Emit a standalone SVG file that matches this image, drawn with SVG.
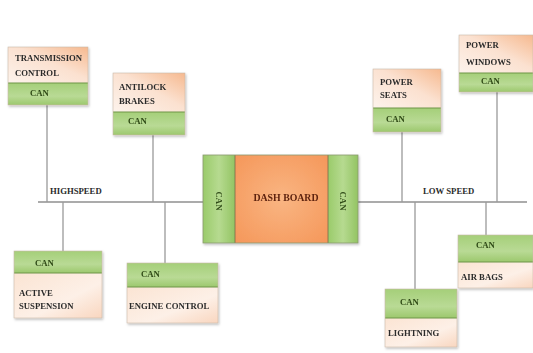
<svg xmlns="http://www.w3.org/2000/svg" width="533" height="353" viewBox="0 0 533 353">
  <defs>
    <linearGradient id="peach" x1="0" y1="1" x2="1" y2="0">
      <stop offset="0" stop-color="#fdf3ec"/>
      <stop offset="0.55" stop-color="#fbe1d0"/>
      <stop offset="1" stop-color="#f6b98f"/>
    </linearGradient>
    <linearGradient id="peachLow" x1="0" y1="0" x2="1" y2="1">
      <stop offset="0" stop-color="#fbe4d3"/>
      <stop offset="0.6" stop-color="#fdf0e7"/>
      <stop offset="1" stop-color="#f9d6bf"/>
    </linearGradient>
    <linearGradient id="green" x1="0" y1="0" x2="0" y2="1">
      <stop offset="0" stop-color="#a5cf79"/>
      <stop offset="0.6" stop-color="#b9da95"/>
      <stop offset="1" stop-color="#9cc86d"/>
    </linearGradient>
    <linearGradient id="greenSide" x1="0" y1="0" x2="1" y2="0">
      <stop offset="0" stop-color="#9acb6a"/>
      <stop offset="0.5" stop-color="#b6da90"/>
      <stop offset="1" stop-color="#93c463"/>
    </linearGradient>
    <radialGradient id="orange" cx="0.5" cy="0.5" r="0.7">
      <stop offset="0" stop-color="#f9b582"/>
      <stop offset="1" stop-color="#f5975a"/>
    </radialGradient>
    <filter id="shadow" x="-10%" y="-10%" width="125%" height="130%">
      <feDropShadow dx="1" dy="1.5" stdDeviation="1" flood-color="#000" flood-opacity="0.25"/>
    </filter>
  </defs>
  <style>
    text { font-family: "Liberation Serif", "Times New Roman", serif; font-weight: bold; font-size: 8.7px; fill: #2b2b2b; }
    .can { fill: #2f4a17; }
    .bus { stroke: #8f8f8f; stroke-width: 1.5; fill: none; }
    .drop { stroke: #9a9a9a; stroke-width: 1.3; fill: none; }
    .top { fill: url(#peach); }
    .low { fill: url(#peachLow); }
    .band { fill: url(#green); }
    .edge { stroke: #6e9648; stroke-width: 1.2; }
    .frame { fill: none; stroke: #c9b9a8; stroke-width: 0.6; }
  </style>

  <rect width="533" height="353" fill="#ffffff"/>

  <!-- bus and drop lines -->
  <g id="connectors">
    <line class="bus" x1="38" y1="202" x2="203" y2="202"/>
    <line class="bus" x1="358" y1="202" x2="527" y2="202"/>
    <line class="drop" x1="47" y1="105" x2="47" y2="202"/>
    <line class="drop" x1="153" y1="135" x2="153" y2="202"/>
    <line class="drop" x1="63" y1="202" x2="63" y2="251"/>
    <line class="drop" x1="165" y1="202" x2="165" y2="263"/>
    <line class="drop" x1="402" y1="132" x2="402" y2="202"/>
    <line class="drop" x1="497" y1="92" x2="497" y2="202"/>
    <line class="drop" x1="415" y1="202" x2="415" y2="289"/>
    <line class="drop" x1="486" y1="202" x2="486" y2="235"/>
    <text x="50" y="194">HIGHSPEED</text>
    <text x="423" y="194">LOW SPEED</text>
  </g>

  <!-- upper nodes: label above, CAN band below -->
  <g id="transmission" filter="url(#shadow)">
    <rect class="top" x="8" y="47" width="80" height="36"/>
    <rect class="band" x="8" y="83" width="80" height="22"/>
    <line class="edge" x1="8" y1="83" x2="88" y2="83"/>
    <rect class="frame" x="8" y="47" width="80" height="58"/>
    <text x="15" y="61">TRANSMISSION</text>
    <text x="15" y="76">CONTROL</text>
    <text class="can" x="30" y="96">CAN</text>
  </g>

  <g id="antilock" filter="url(#shadow)">
    <rect class="top" x="113" y="73" width="72" height="39"/>
    <rect class="band" x="113" y="112" width="72" height="23"/>
    <line class="edge" x1="113" y1="112" x2="185" y2="112"/>
    <rect class="frame" x="113" y="73" width="72" height="62"/>
    <text x="119" y="90">ANTILOCK</text>
    <text x="119" y="104">BRAKES</text>
    <text class="can" x="128" y="124">CAN</text>
  </g>

  <g id="power-seats" filter="url(#shadow)">
    <rect class="top" x="373" y="69" width="68" height="39"/>
    <rect class="band" x="373" y="108" width="68" height="24"/>
    <line class="edge" x1="373" y1="108" x2="441" y2="108"/>
    <rect class="frame" x="373" y="69" width="68" height="63"/>
    <text x="380" y="85">POWER</text>
    <text x="380" y="98">SEATS</text>
    <text class="can" x="386" y="122">CAN</text>
  </g>

  <g id="power-windows" filter="url(#shadow)">
    <rect class="top" x="459" y="35" width="74" height="38"/>
    <rect class="band" x="459" y="73" width="74" height="19"/>
    <line class="edge" x1="459" y1="73" x2="533" y2="73"/>
    <rect class="frame" x="459" y="35" width="74" height="57"/>
    <text x="466" y="48">POWER</text>
    <text x="466" y="65">WINDOWS</text>
    <text class="can" x="481" y="84">CAN</text>
  </g>

  <!-- lower nodes: CAN band above, label below -->
  <g id="active-suspension" filter="url(#shadow)">
    <rect class="band" x="14" y="251" width="88" height="22"/>
    <rect class="low" x="14" y="273" width="88" height="45"/>
    <line class="edge" x1="14" y1="273" x2="102" y2="273"/>
    <rect class="frame" x="14" y="251" width="88" height="67"/>
    <text class="can" x="35" y="266">CAN</text>
    <text x="19" y="296">ACTIVE</text>
    <text x="19" y="309">SUSPENSION</text>
  </g>

  <g id="engine-control" filter="url(#shadow)">
    <rect class="band" x="127" y="263" width="91" height="24"/>
    <rect class="low" x="127" y="287" width="91" height="36"/>
    <line class="edge" x1="127" y1="287" x2="218" y2="287"/>
    <rect class="frame" x="127" y="263" width="91" height="60"/>
    <text class="can" x="141" y="277">CAN</text>
    <text x="129" y="309">ENGINE CONTROL</text>
  </g>

  <g id="lightning" filter="url(#shadow)">
    <rect class="band" x="385" y="289" width="72" height="29"/>
    <rect class="low" x="385" y="318" width="72" height="29"/>
    <line class="edge" x1="385" y1="318" x2="457" y2="318"/>
    <rect class="frame" x="385" y="289" width="72" height="58"/>
    <text class="can" x="400" y="305">CAN</text>
    <text x="388" y="336">LIGHTNING</text>
  </g>

  <g id="air-bags" filter="url(#shadow)">
    <rect class="band" x="458" y="235" width="75" height="27"/>
    <rect class="low" x="458" y="262" width="75" height="26"/>
    <line class="edge" x1="458" y1="262" x2="533" y2="262"/>
    <rect class="frame" x="458" y="235" width="75" height="53"/>
    <text class="can" x="476" y="248">CAN</text>
    <text x="461" y="280">AIR BAGS</text>
  </g>

  <!-- central dashboard with CAN interfaces on both sides -->
  <g id="dashboard" filter="url(#shadow)">
    <rect x="203" y="155" width="32" height="88" fill="url(#greenSide)"/>
    <rect x="235" y="155" width="93" height="88" fill="url(#orange)"/>
    <rect x="328" y="155" width="30" height="88" fill="url(#greenSide)"/>
    <line x1="235" y1="155" x2="235" y2="243" stroke="#7a6a4a" stroke-width="0.8"/>
    <line x1="328" y1="155" x2="328" y2="243" stroke="#7a6a4a" stroke-width="0.8"/>
    <rect x="203" y="155" width="155" height="88" fill="none" stroke="#8a9a70" stroke-width="0.8"/>
    <text x="286" y="201" text-anchor="middle" style="font-size:9.8px;fill:#5e2410">DASH BOARD</text>
    <text class="can" x="0" y="0" transform="translate(216 201) rotate(90)" text-anchor="middle">CAN</text>
    <text class="can" x="0" y="0" transform="translate(340 201) rotate(90)" text-anchor="middle">CAN</text>
  </g>
</svg>
